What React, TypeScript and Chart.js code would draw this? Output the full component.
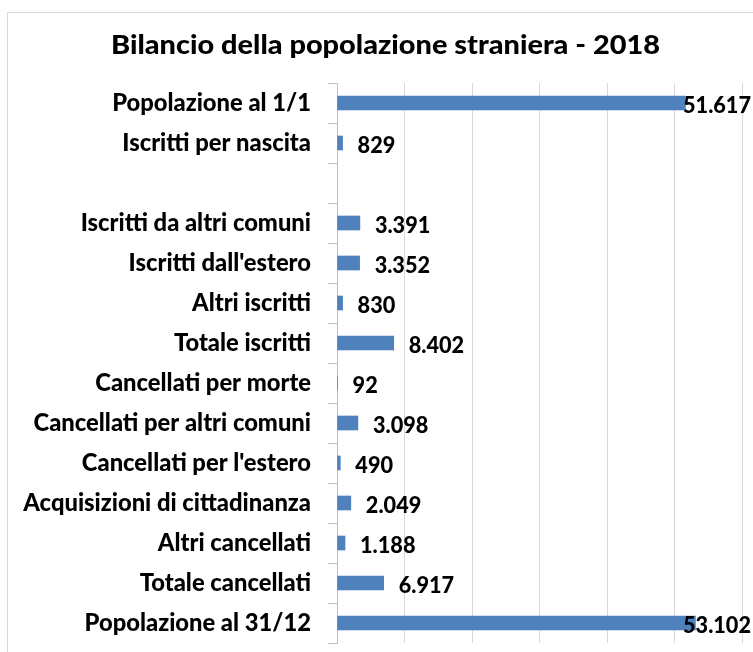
import { useEffect, useRef } from "react";
import { Chart, registerables } from "chart.js";

Chart.register(...registerables);

const TITLE = "Bilancio della popolazione straniera - 2018";

const categories = [
  "Popolazione al 1/1",
  "Iscritti per nascita",
  "",
  "Iscritti da altri comuni",
  "Iscritti dall'estero",
  "Altri iscritti",
  "Totale iscritti",
  "Cancellati per morte",
  "Cancellati per altri comuni",
  "Cancellati per l'estero",
  "Acquisizioni di cittadinanza",
  "Altri cancellati",
  "Totale cancellati",
  "Popolazione al 31/12",
];

const values: (number | null)[] = [
  51617, 829, null, 3391, 3352, 830, 8402, 92, 3098, 490, 2049, 1188, 6917, 53102,
];

const axisMin = 0;
const axisMax = 60000;
const axisStep = 10000;

const FONT = "Lato, 'Noto Sans', 'DejaVu Sans', sans-serif";
const WEIGHT = "900";

function measure(text: string, size: number): number {
  const ctx = document.createElement("canvas").getContext("2d")!;
  ctx.font = `${WEIGHT} ${size}px ${FONT}`;
  return ctx.measureText(text).width;
}

function fit(text: string, target: number): number {
  return (100 * target) / measure(text, 100);
}

function fmt(v: number): string {
  return String(v).replace(/\B(?=(\d{3})+(?!\d))/g, ".");
}

export default function App() {
  const ref = useRef<HTMLCanvasElement>(null);

  useEffect(() => {
    const canvas = ref.current;
    if (!canvas) return;
    const tickSize = fit("Popolazione al 1/1", 199);
    const titleSize = 27;
    const titleScale = 549 / measure(TITLE, titleSize);
    const labelSize = 23;
    const labelScale = 68 / measure("51.617", labelSize);

    const framePlugin = {
      id: "frameTitle",
      beforeDraw(chart: any) {
        const { ctx } = chart;
        ctx.save();
        ctx.fillStyle = "#ffffff";
        ctx.fillRect(0, 0, chart.width, chart.height);
        ctx.strokeStyle = "#d9d9d9";
        ctx.lineWidth = 1;
        ctx.strokeRect(7.5, 12.5, chart.width + 40, chart.height + 40);
        ctx.restore();
        ctx.save();
        ctx.fillStyle = "#000000";
        ctx.font = `${WEIGHT} ${titleSize}px ${FONT}`;
        ctx.textAlign = "center";
        ctx.textBaseline = "alphabetic";
        ctx.translate(385.5, 54);
        ctx.scale(titleScale, 1);
        ctx.fillText(TITLE, 0, 0);
        ctx.restore();
      },
    };

    const valuePlugin = {
      id: "valueLabels",
      afterDatasetsDraw(chart: any) {
        const { ctx } = chart;
        const meta = chart.getDatasetMeta(0);
        meta.data.forEach((bar: any, i: number) => {
          const v = values[i];
          if (v == null) return;
          const t = fmt(v);
          ctx.save();
          ctx.fillStyle = "#000000";
          ctx.font = `${WEIGHT} ${labelSize}px ${FONT}`;
          ctx.textAlign = "left";
          ctx.textBaseline = "alphabetic";
          const w = ctx.measureText(t).width * labelScale;
          const x = Math.min(bar.x + 15, chart.width - 2 - w);
          ctx.translate(x, bar.y + 10);
          ctx.scale(labelScale, 1);
          ctx.fillText(t, 0, 0);
          ctx.restore();
        });
      },
    };

    const chart = new Chart(canvas, {
      type: "bar",
      data: {
        labels: categories,
        datasets: [
          {
            data: values as any,
            backgroundColor: "#4f81bd",
            borderWidth: 0,
            barThickness: 14,
          },
        ],
      },
      options: {
        indexAxis: "y",
        responsive: false,
        animation: false,
        devicePixelRatio: 1,
        layout: { padding: { left: 0, top: 83, right: 11, bottom: 9 } },
        plugins: {
          legend: { display: false },
          title: { display: false },
          tooltip: { enabled: false },
        },
        scales: {
          x: {
            min: axisMin,
            max: axisMax,
            ticks: { display: false, stepSize: axisStep },
            grid: { color: "#d9d9d9", drawTicks: false, lineWidth: 1 },
            border: { display: false },
            afterFit(scale: any) {
              scale.height = 0;
              scale.paddingLeft = 0;
              scale.paddingRight = 0;
            },
          },
          y: {
            grid: {
              drawOnChartArea: false,
              drawTicks: true,
              tickLength: 9,
              color: "#bfbfbf",
            },
            border: { display: true, color: "#bfbfbf" },
            ticks: {
              color: "#000000",
              padding: 17,
              autoSkip: false,
              font: { family: FONT, size: tickSize, weight: WEIGHT as any },
            },
            afterFit(scale: any) {
              scale.width = 337;
              scale.paddingTop = 0;
              scale.paddingBottom = 0;
            },
          },
        },
      },
      plugins: [framePlugin, valuePlugin],
    });

    return () => chart.destroy();
  }, []);

  return (
    <canvas
      ref={ref}
      width={753}
      height={652}
      style={{ position: "absolute", left: 0, top: 0, display: "block", width: 753, height: 652 }}
    />
  );
}
